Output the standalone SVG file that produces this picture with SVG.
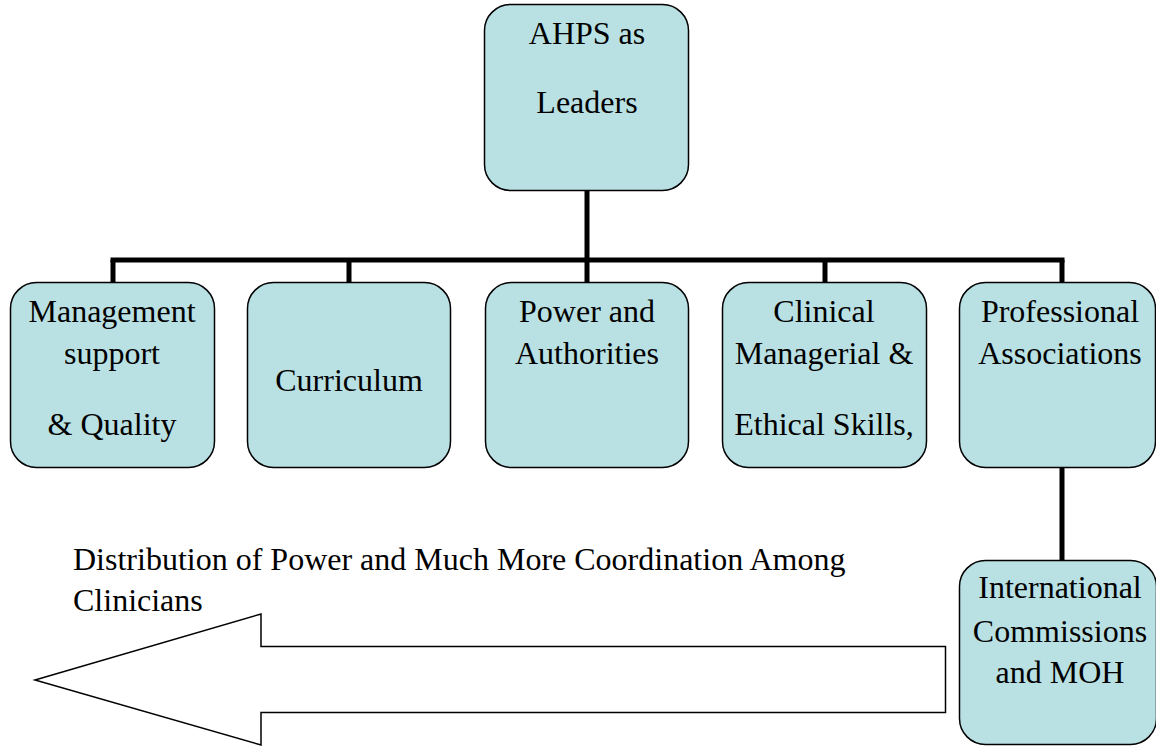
<svg xmlns="http://www.w3.org/2000/svg" width="1156" height="746" viewBox="0 0 1156 746">
<style>
.box{fill:#B9E0E3;stroke:#000;stroke-width:1.5}
text{font-family:'Liberation Serif','Times New Roman',Times,'DejaVu Serif',serif;font-size:32px;fill:#000}
.t{text-anchor:middle}
.c{stroke:#000;stroke-width:5;fill:none}
</style>
<rect width="1156" height="746" fill="#fff"/>
<g id="connectors">
<line class="c" x1="587" y1="190" x2="587" y2="260"/>
<line class="c" x1="110.5" y1="260" x2="1064.5" y2="260"/>
<line class="c" x1="113" y1="260" x2="113" y2="283"/>
<line class="c" x1="349" y1="260" x2="349" y2="283"/>
<line class="c" x1="587" y1="260" x2="587" y2="283"/>
<line class="c" x1="825" y1="260" x2="825" y2="283"/>
<line class="c" x1="1062" y1="260" x2="1062" y2="283"/>
<line class="c" x1="1062" y1="467" x2="1062" y2="560"/>
</g>
<g id="n-top">
<rect class="box" x="484.5" y="4.5" width="204" height="186" rx="26"/>
<text class="t" x="587" y="44">AHPS as</text>
<text class="t" x="587" y="113">Leaders</text>
</g>
<g id="n-management">
<rect class="box" x="10.5" y="282.5" width="204" height="185" rx="26"/>
<text class="t" x="112" y="322">Management</text>
<text class="t" x="112" y="364">support</text>
<text class="t" x="112" y="435">&amp; Quality</text>
</g>
<g id="n-curriculum">
<rect class="box" x="247.5" y="282.5" width="203" height="185" rx="26"/>
<text class="t" x="349" y="391">Curriculum</text>
</g>
<g id="n-power">
<rect class="box" x="485.5" y="282.5" width="203" height="185" rx="26"/>
<text class="t" x="587" y="322">Power and</text>
<text class="t" x="587" y="364">Authorities</text>
</g>
<g id="n-clinical">
<rect class="box" x="722.5" y="282.5" width="204" height="185" rx="26"/>
<text class="t" x="824" y="322">Clinical</text>
<text class="t" x="824" y="364">Managerial &amp;</text>
<text class="t" x="824" y="435">Ethical Skills,</text>
</g>
<g id="n-professional">
<rect class="box" x="959.5" y="282.5" width="196" height="185" rx="26"/>
<text class="t" x="1060" y="322">Professional</text>
<text class="t" x="1060" y="364">Associations</text>
</g>
<g id="n-international">
<rect class="box" x="959.5" y="560.5" width="197" height="184" rx="26"/>
<text class="t" x="1060" y="598">International</text>
<text class="t" x="1060" y="642">Commissions</text>
<text class="t" x="1060" y="683">and MOH</text>
</g>
<g id="arrow">
<polygon points="35,680 261,614 261,646.5 945.5,646.5 945.5,712.5 261,712.5 261,745" fill="#fff" stroke="#000" stroke-width="1.5"/>
</g>
<g id="label">
<text x="73" y="570">Distribution of Power and Much More Coordination Among</text>
<text x="73" y="611">Clinicians</text>
</g>
</svg>
